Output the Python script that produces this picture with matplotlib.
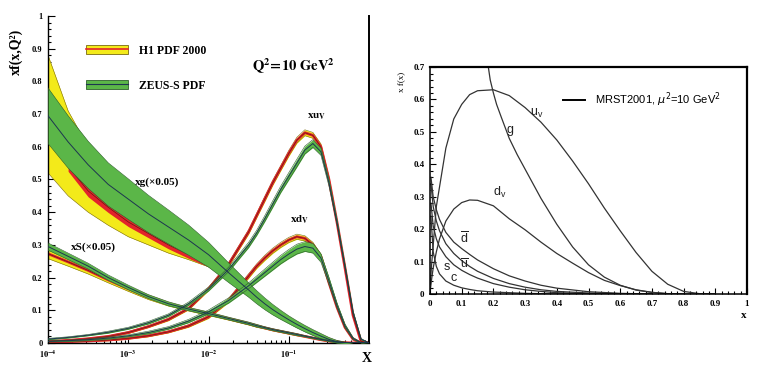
import numpy as np
import matplotlib
matplotlib.use("Agg")
import matplotlib.pyplot as plt
from matplotlib.patches import Patch
from matplotlib.lines import Line2D
from matplotlib.legend_handler import HandlerTuple
from matplotlib.ticker import MultipleLocator, FixedLocator, FuncFormatter

# ---- left panel: H1 vs ZEUS-S, Q^2 = 10 GeV^2 (log10 x grid) ----
logx = [-4, -3.75, -3.5, -3.25, -3, -2.75, -2.5, -2.25, -2, -1.75, -1.5, -1.4, -1.3,
        -1.2, -1.1, -1.0, -0.9, -0.8, -0.7, -0.6, -0.5, -0.4, -0.3, -0.2, -0.1, 0]

g_h1 = [np.nan, 0.54, 0.465, 0.415, 0.37, 0.335, 0.30, 0.27, 0.243, 0.205, 0.155, 0.135, 0.117,
        0.10, 0.085, 0.07, 0.056, 0.043, 0.031, 0.02, 0.01, 0.003, 0, 0, 0, 0]
g_h1_err = [0, 0.015, 0.018, 0.016, 0.014, 0.013, 0.012, 0.011, 0.01, 0.009, 0.008, 0.007, 0.007,
            0.006, 0.006, 0.005, 0.005, 0.004, 0.004, 0.003, 0.003, 0.002, 0, 0, 0, 0]
g_h1_lo = [0.52, 0.45, 0.40, 0.36, 0.325, 0.30, 0.275, 0.255, 0.233, 0.195, 0.147, 0.127, 0.11,
           0.093, 0.078, 0.064, 0.051, 0.038, 0.027, 0.016, 0.007, 0.001, 0, 0, 0, 0]
g_h1_hi = [0.88, 0.71, 0.60, 0.52, 0.46, 0.41, 0.365, 0.32, 0.275, 0.225, 0.172, 0.151, 0.132,
           0.114, 0.097, 0.081, 0.066, 0.052, 0.039, 0.027, 0.016, 0.007, 0.002, 0, 0, 0]
g_zeus = [0.695, 0.615, 0.545, 0.485, 0.44, 0.395, 0.355, 0.315, 0.27, 0.215, 0.162, 0.14, 0.12,
          0.102, 0.086, 0.071, 0.057, 0.044, 0.032, 0.021, 0.011, 0.004, 0.001, 0, 0, 0]
g_zeus_err = [0.085, 0.08, 0.072, 0.066, 0.062, 0.057, 0.052, 0.046, 0.038, 0.03, 0.022, 0.02, 0.018,
              0.016, 0.014, 0.012, 0.011, 0.01, 0.009, 0.008, 0.006, 0.004, 0.002, 0, 0, 0]

s_h1 = [0.273, 0.248, 0.222, 0.193, 0.166, 0.14, 0.119, 0.103, 0.089, 0.074, 0.059, 0.052, 0.046,
        0.04, 0.035, 0.03, 0.025, 0.02, 0.015, 0.01, 0.006, 0.003, 0.001, 0, 0, 0]
s_h1_err = [0.015, 0.013, 0.011, 0.009, 0.008, 0.007, 0.006, 0.005, 0.005, 0.004, 0.004, 0.004, 0.003,
            0.003, 0.003, 0.003, 0.003, 0.002, 0.002, 0.002, 0.002, 0.001, 0.001, 0, 0, 0]
s_zeus = [0.295, 0.265, 0.235, 0.20, 0.17, 0.142, 0.12, 0.104, 0.09, 0.075, 0.06, 0.053, 0.047,
          0.041, 0.036, 0.031, 0.026, 0.021, 0.016, 0.011, 0.007, 0.003, 0.001, 0, 0, 0]
s_zeus_err = [0.011, 0.01, 0.009, 0.008, 0.007, 0.006, 0.006, 0.005, 0.005, 0.004, 0.004, 0.004, 0.003,
              0.003, 0.003, 0.003, 0.003, 0.002, 0.002, 0.002, 0.002, 0.001, 0.001, 0, 0, 0]

uv_h1 = [0.005, 0.008, 0.013, 0.02, 0.032, 0.05, 0.072, 0.105, 0.165, 0.24, 0.34, 0.39, 0.44,
         0.49, 0.535, 0.58, 0.62, 0.643, 0.635, 0.6, 0.50, 0.37, 0.23, 0.085, 0.005, 0]
uv_h1_err = [0.001, 0.001, 0.002, 0.002, 0.003, 0.003, 0.004, 0.004, 0.005, 0.006, 0.007, 0.007, 0.008,
             0.008, 0.008, 0.009, 0.009, 0.009, 0.009, 0.009, 0.008, 0.007, 0.006, 0.004, 0.001, 0]
uv_zeus = [0.012, 0.017, 0.024, 0.033, 0.045, 0.062, 0.085, 0.12, 0.165, 0.225, 0.30, 0.337, 0.38,
           0.425, 0.47, 0.51, 0.55, 0.59, 0.61, 0.585, 0.49, 0.37, 0.235, 0.095, 0.012, 0]
uv_zeus_err = [0.002, 0.002, 0.002, 0.003, 0.003, 0.004, 0.004, 0.005, 0.006, 0.007, 0.008, 0.008, 0.009,
               0.01, 0.01, 0.011, 0.012, 0.012, 0.012, 0.011, 0.01, 0.008, 0.006, 0.004, 0.002, 0]

dv_h1 = [0.003, 0.004, 0.006, 0.009, 0.014, 0.022, 0.034, 0.052, 0.08, 0.13, 0.205, 0.235, 0.26,
         0.282, 0.30, 0.315, 0.325, 0.32, 0.30, 0.265, 0.185, 0.11, 0.048, 0.012, 0, 0]
dv_h1_err = [0.001, 0.001, 0.001, 0.002, 0.002, 0.003, 0.003, 0.004, 0.005, 0.006, 0.007, 0.007, 0.008,
             0.008, 0.008, 0.008, 0.008, 0.008, 0.008, 0.007, 0.006, 0.005, 0.004, 0.002, 0, 0]
dv_zeus = [0.005, 0.007, 0.01, 0.015, 0.022, 0.032, 0.046, 0.067, 0.095, 0.13, 0.175, 0.195, 0.215,
           0.235, 0.255, 0.272, 0.287, 0.295, 0.29, 0.26, 0.19, 0.115, 0.052, 0.014, 0.001, 0]
dv_zeus_err = [0.001, 0.002, 0.002, 0.003, 0.003, 0.004, 0.004, 0.005, 0.006, 0.008, 0.009, 0.01, 0.011,
               0.012, 0.013, 0.014, 0.015, 0.015, 0.015, 0.013, 0.011, 0.008, 0.006, 0.003, 0.001, 0]

# ---- right panel: MRST2001, mu^2 = 10 GeV^2 ----
x_val = [0.001, 0.005, 0.01, 0.02, 0.03, 0.05, 0.075, 0.1, 0.125, 0.15, 0.2, 0.25, 0.3, 0.35,
         0.4, 0.45, 0.5, 0.55, 0.6, 0.65, 0.7, 0.75, 0.8, 0.85, 0.9]
uv_mrst = [0.03, 0.09, 0.15, 0.27, 0.33, 0.45, 0.54, 0.585, 0.615, 0.627, 0.63, 0.612, 0.575, 0.53,
           0.475, 0.41, 0.34, 0.265, 0.195, 0.128, 0.07, 0.03, 0.008, 0.001, 0]
dv_mrst = [0.012, 0.045, 0.08, 0.13, 0.17, 0.225, 0.262, 0.282, 0.29, 0.289, 0.272, 0.232, 0.198, 0.16,
           0.125, 0.095, 0.066, 0.042, 0.026, 0.013, 0.005, 0.001, 0, 0, 0]
x_g = [0.175, 0.19, 0.2, 0.21, 0.225, 0.25, 0.275, 0.3, 0.35, 0.4, 0.45, 0.5, 0.55, 0.6, 0.65,
       0.7, 0.75, 0.8]
g_mrst = [0.76, 0.66, 0.62, 0.585, 0.545, 0.48, 0.43, 0.385, 0.295, 0.215, 0.145, 0.09, 0.052,
          0.027, 0.012, 0.005, 0.001, 0]
x_sea = [0.003, 0.01, 0.02, 0.03, 0.05, 0.075, 0.1, 0.125, 0.15, 0.2, 0.25, 0.3, 0.35, 0.4,
         0.5, 0.6, 0.7]
dbar_mrst = [0.36, 0.3, 0.26, 0.23, 0.19, 0.16, 0.14, 0.122, 0.105, 0.078, 0.056, 0.04, 0.027,
             0.018, 0.007, 0.002, 0]
ubar_mrst = [0.34, 0.27, 0.225, 0.195, 0.155, 0.125, 0.103, 0.085, 0.07, 0.048, 0.032, 0.021, 0.013,
             0.008, 0.003, 0.001, 0]
s_mrst = [0.28, 0.21, 0.17, 0.145, 0.115, 0.09, 0.073, 0.06, 0.049, 0.032, 0.021, 0.013, 0.008,
          0.004, 0.001, 0, 0]
c_mrst = [0.24, 0.13, 0.085, 0.062, 0.04, 0.027, 0.019, 0.014, 0.01, 0.006, 0.004, 0.002, 0.001,
          0, 0, 0, 0]

YELLOW = "#f3ea1a"
RED = "#e3232b"
GREEN = "#5bb648"
NAVY = "#1d3550"
OLIVE = "#7a6a10"
DKGREEN = "#2f5f2c"
GREY = "#333333"

serif = "Liberation Serif"
sans = "Liberation Sans"

fig = plt.figure(figsize=(7.6, 3.72), dpi=100)

# ================= left panel =================
ax1 = fig.add_axes([0.0632, 0.078, 0.4224, 0.879])
x = 10.0 ** np.array(logx)


def h1_band(c, lo, hi, inner=None):
    c = np.array(c)
    ax1.fill_between(x, lo, hi, color=YELLOW, lw=0, zorder=2)
    ax1.plot(x, lo, color=OLIVE, lw=0.4, zorder=2.1)
    ax1.plot(x, hi, color=OLIVE, lw=0.4, zorder=2.1)
    if inner is None:
        ax1.plot(x, c, color=RED, lw=2.0, zorder=2.2)
    else:
        ax1.fill_between(x, c - np.array(inner), c + np.array(inner), color=RED, lw=0, zorder=2.2)
    ax1.plot(x, c, color="#6a1a10", lw=0.5, zorder=2.3)


def zeus_band(c, err):
    c = np.array(c)
    e = np.array(err)
    ax1.fill_between(x, c - e, c + e, color=GREEN, lw=0, zorder=3)
    ax1.plot(x, c - e, color=DKGREEN, lw=0.4, zorder=3.1)
    ax1.plot(x, c + e, color=DKGREEN, lw=0.4, zorder=3.1)
    ax1.plot(x, c, color=NAVY, lw=0.7, zorder=3.2)


# gluon
h1_band(g_h1, g_h1_lo, g_h1_hi, inner=g_h1_err)
zeus_band(g_zeus, g_zeus_err)
# sea
s_c = np.array(s_h1)
h1_band(s_h1, s_c - np.array(s_h1_err), s_c + np.array(s_h1_err))
zeus_band(s_zeus, s_zeus_err)
# valence
for cen, err in [(uv_h1, uv_h1_err), (dv_h1, dv_h1_err)]:
    cc = np.array(cen)
    h1_band(cen, cc - np.array(err), cc + np.array(err))
for cen, err in [(uv_zeus, uv_zeus_err), (dv_zeus, dv_zeus_err)]:
    zeus_band(cen, err)

ax1.set_xscale("log")
ax1.set_xlim(1e-4, 1)
ax1.set_ylim(0, 1)
ax1.spines["top"].set_visible(False)
ax1.spines["right"].set_linewidth(1.4)
ax1.spines["left"].set_linewidth(1.0)
ax1.spines["bottom"].set_linewidth(1.0)
ax1.yaxis.set_major_locator(MultipleLocator(0.1))
ax1.yaxis.set_minor_locator(MultipleLocator(0.02))
ax1.xaxis.set_major_locator(FixedLocator([1e-4, 1e-3, 1e-2, 1e-1]))
ax1.yaxis.set_major_formatter(FuncFormatter(lambda v, p: "0" if v < 1e-6 else ("1" if v > 0.999 else f"{v:.1f}")))
ax1.xaxis.set_major_formatter(FuncFormatter(lambda v, p: r"$\mathbf{10^{%d}}$" % int(round(np.log10(v)))))
ax1.tick_params(which="both", direction="in", top=False, right=False, width=0.8)
ax1.tick_params(which="major", length=5, labelsize=6, pad=4)
ax1.tick_params(which="minor", length=2.5)
for lab in ax1.get_yticklabels():
    lab.set_fontfamily(serif)
    lab.set_fontweight("bold")
for lab in ax1.get_xticklabels():
    lab.set_math_fontfamily("stix")

leg_h1 = (Patch(facecolor=YELLOW, edgecolor=OLIVE, lw=0.6), Line2D([], [], color=RED, lw=1.2))
leg_ze = (Patch(facecolor=GREEN, edgecolor=DKGREEN, lw=0.6), Line2D([], [], color=NAVY, lw=0.8))
ax1.legend([leg_h1, leg_ze], ["H1 PDF 2000", "ZEUS-S PDF"],
           handler_map={tuple: HandlerTuple(ndivide=1)},
           loc="upper left", bbox_to_anchor=(0.085, 0.945), frameon=False,
           handlelength=3.6, handleheight=0.9, labelspacing=1.95, handletextpad=0.9,
           prop={"family": serif, "weight": "bold", "size": 8.5})

txt_kw = dict(fontsize=8, fontweight="bold", family=serif, ha="center", va="center")
ax1.text(2.27e-3, 0.493, "xg(×0.05)", **txt_kw)
ax1.text(3.67e-4, 0.294, "xS(×0.05)", **txt_kw)
ax1.text(0.223, 0.692, r"$\mathbf{xu}_\mathbf{V}$", fontsize=8, math_fontfamily="stix",
         ha="center", va="center")
ax1.text(0.138, 0.376, r"$\mathbf{xd}_\mathbf{V}$", fontsize=8, math_fontfamily="stix",
         ha="center", va="center")
ax1.text(0.114, 0.845, r"$\mathbf{Q^2\!=\!10\ GeV^2}$", fontsize=10.5, math_fontfamily="stix",
         ha="center", va="center")
fig.text(0.483, 0.028, "X", fontsize=10, fontweight="bold", family=serif, ha="center")
fig.text(0.013, 0.86, "xf(x,Q²)", fontsize=10, fontweight="bold", family=serif,
         rotation=90, va="center", ha="left")

# ================= right panel =================
ax2 = fig.add_axes([0.5658, 0.2097, 0.4171, 0.610])
ax2.plot(x_val, uv_mrst, color=GREY, lw=0.9)
ax2.plot(x_val, dv_mrst, color=GREY, lw=0.9)
ax2.plot(x_g, g_mrst, color=GREY, lw=0.9)
for sea in [dbar_mrst, ubar_mrst, s_mrst, c_mrst]:
    ax2.plot(x_sea, sea, color=GREY, lw=0.9)

ax2.set_xlim(0, 1)
ax2.set_ylim(0, 0.7)
ax2.xaxis.set_major_locator(MultipleLocator(0.1))
ax2.xaxis.set_minor_locator(MultipleLocator(0.02))
ax2.yaxis.set_major_locator(MultipleLocator(0.1))
ax2.yaxis.set_minor_locator(MultipleLocator(0.02))
ax2.xaxis.set_major_formatter(FuncFormatter(lambda v, p: "0" if v < 1e-6 else ("1" if v > 0.999 else f"{v:.1f}")))
ax2.yaxis.set_major_formatter(FuncFormatter(lambda v, p: "0" if v < 1e-6 else f"{v:.1f}"))
ax2.tick_params(which="both", direction="in", width=0.8)
ax2.tick_params(which="major", length=4.5, labelsize=6.5, pad=4)
ax2.tick_params(which="minor", length=2.5)
for lab in ax2.get_xticklabels() + ax2.get_yticklabels():
    lab.set_fontfamily(serif)
    lab.set_fontweight("bold")
for side in ["top", "right"]:
    ax2.spines[side].set_linewidth(1.6)
for side in ["left", "bottom"]:
    ax2.spines[side].set_linewidth(1.1)

ax2.plot([0.421, 0.489], [0.599, 0.599], color="black", lw=1.4)
ax2.text(0.521, 0.599, r"MRST2001, $\mu^2$=10 GeV$^2$", fontsize=8, family=sans,
         va="center", math_fontfamily="dejavusans")
lab_kw = dict(fontsize=9, family=sans, color="#222222", math_fontfamily="dejavusans",
              ha="center", va="center")
ax2.text(0.337, 0.556, r"u$_\mathregular{v}$", **lab_kw)
ax2.text(0.253, 0.505, "g", **lab_kw)
ax2.text(0.221, 0.312, r"d$_\mathregular{v}$", **lab_kw)
ax2.text(0.11, 0.17, r"$\overline{\mathregular{d}}$", **lab_kw)
ax2.text(0.11, 0.09, r"$\overline{\mathregular{u}}$", **lab_kw)
ax2.text(0.053, 0.084, "s", **lab_kw)
ax2.text(0.074, 0.048, "c", **lab_kw)
fig.text(0.978, 0.145, "x", fontsize=8, fontweight="bold", family=serif, ha="center")
fig.text(0.524, 0.78, "x f(x)", fontsize=6.5, family=serif, rotation=90, va="center")

fig.savefig("out.png", dpi=100)
